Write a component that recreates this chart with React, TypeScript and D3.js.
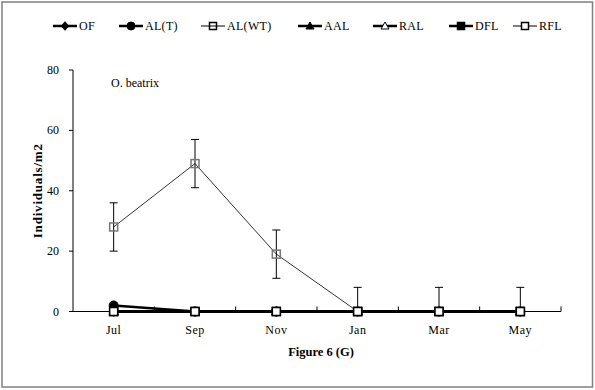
import React from "react";
import * as d3 from "d3";

const months = ["Jul", "Sep", "Nov", "Jan", "Mar", "May"];
const yTicks = [0, 20, 40, 60, 80];

const seriesNames = ["OF", "AL(T)", "AL(WT)", "AAL", "RAL", "DFL", "RFL"];
const ofValues = [0, 0, 0, 0, 0, 0];
const altValues = [2, 0, 0, 0, 0, 0];
const alwtValues = [28, 49, 19, 0, 0, 0];
const alwtErrors = [8, 8, 8, 8, 8, 8];
const aalValues = [0, 0, 0, 0, 0, 0];
const ralValues = [0, 0, 0, 0, 0, 0];
const dflValues = [0, 0, 0, 0, 0, 0];
const rflValues = [0, 0, 0, 0, 0, 0];

const FONT = "Liberation Serif, DejaVu Serif, Times New Roman, serif";

type Marker = "diamond" | "circle" | "square" | "triangle";
interface Style {
  lineWidth: number;
  lineColor: string;
  marker: Marker;
  fill: string;
  stroke: string;
  size: number;
}

const styles: Style[] = [
  { lineWidth: 2.5, lineColor: "#000", marker: "diamond", fill: "#000", stroke: "#000", size: 9 },
  { lineWidth: 2.5, lineColor: "#000", marker: "circle", fill: "#000", stroke: "#000", size: 9 },
  { lineWidth: 1, lineColor: "#333", marker: "square", fill: "none", stroke: "#777", size: 9 },
  { lineWidth: 2.5, lineColor: "#000", marker: "triangle", fill: "#000", stroke: "#000", size: 9 },
  { lineWidth: 2.5, lineColor: "#000", marker: "triangle", fill: "#fff", stroke: "#000", size: 9 },
  { lineWidth: 2.5, lineColor: "#000", marker: "square", fill: "#000", stroke: "#000", size: 9 },
  { lineWidth: 1, lineColor: "#000", marker: "square", fill: "#fff", stroke: "#000", size: 9 },
];

const seriesValues = [ofValues, altValues, alwtValues, aalValues, ralValues, dflValues, rflValues];

// legend marker centres
const legendX = [65, 131, 213, 310, 385, 461, 525];

function MarkerShape({ m, x, y }: { m: Style; x: number; y: number }) {
  const s = m.size;
  const h = s / 2;
  if (m.marker === "circle") {
    return <circle cx={x} cy={y} r={h} fill={m.fill} stroke={m.stroke} strokeWidth={1} />;
  }
  if (m.marker === "diamond") {
    return (
      <path
        d={`M${x},${y - h - 0.5}L${x + h},${y}L${x},${y + h + 0.5}L${x - h},${y}Z`}
        fill={m.fill}
        stroke={m.stroke}
        strokeWidth={0.5}
      />
    );
  }
  if (m.marker === "triangle") {
    return (
      <path
        d={`M${x},${y - h}L${x + h},${y + h - 1}L${x - h},${y + h - 1}Z`}
        fill={m.fill}
        stroke={m.stroke}
        strokeWidth={1}
      />
    );
  }
  return (
    <rect
      x={x - h + 0.5}
      y={y - h + 0.5}
      width={s - 1}
      height={s - 1}
      fill={m.fill}
      stroke={m.stroke}
      strokeWidth={1.5}
    />
  );
}

export default function App() {
  const W = 595;
  const H = 390;
  const left = 73;
  const right = 561;
  const top = 70;
  const bottom = 311.5;

  const x = d3.scaleBand<string>().domain(months).range([left, right]).padding(0);
  const y = d3.scaleLinear().domain([0, 80]).range([bottom, top]);
  const cx = (m: string) => (x(m) as number) + x.bandwidth() / 2;

  const line = d3
    .line<number>()
    .x((_, i) => cx(months[i]))
    .y((v) => y(v));

  const boundaries = months.map((m) => (x(m) as number) + x.bandwidth());

  return (
    <svg
      width={W}
      height={H}
      style={{ position: "absolute", left: 0, top: 0, background: "#fff", fontFamily: FONT }}
    >
      <rect x={0} y={0} width={W} height={H} fill="#fff" />
      <rect x={2} y={2} width={590.5} height={385} fill="none" stroke="#808080" strokeWidth={1.5} />

      {/* Legend */}
      {seriesNames.map((name, i) => {
        const st = styles[i];
        const mx = legendX[i];
        const ly = 26;
        return (
          <g key={name}>
            <line x1={mx - 12} x2={mx + 12} y1={ly} y2={ly} stroke="#000" strokeWidth={st.lineWidth} />
            <MarkerShape m={{ ...st, stroke: "#000", size: 8 }} x={mx} y={ly} />
            <text x={mx + 14} y={ly + 4} fontSize={12} fill="#000" letterSpacing={0.3} style={{ fontFamily: FONT }}>
              {name}
            </text>
          </g>
        );
      })}

      {/* Axes */}
      <line x1={left} x2={left} y1={top} y2={bottom} stroke="#000" strokeWidth={1} />
      <line x1={left} x2={right} y1={bottom} y2={bottom} stroke="#000" strokeWidth={1} />
      {yTicks.map((t) => (
        <g key={t}>
          <line x1={left - 4} x2={left} y1={y(t)} y2={y(t)} stroke="#000" strokeWidth={1} />
          <text x={59} y={y(t) + 4} fontSize={12} textAnchor="end" fill="#000" style={{ fontFamily: FONT }}>
            {t}
          </text>
        </g>
      ))}
      {boundaries.map((b, i) => (
        <line key={i} x1={b} x2={b} y1={bottom - 5} y2={bottom} stroke="#000" strokeWidth={1} />
      ))}
      {months.map((m) => (
        <text
          key={m}
          x={cx(m)}
          y={bottom + 22}
          fontSize={12}
          textAnchor="middle"
          fill="#000"
          letterSpacing={0.5}
          style={{ fontFamily: FONT }}
        >
          {m}
        </text>
      ))}

      {/* Lines */}
      {seriesValues.map((vals, i) => (
        <path
          key={"l" + i}
          d={line(vals) || ""}
          fill="none"
          stroke={styles[i].lineColor}
          strokeWidth={styles[i].lineWidth}
        />
      ))}

      {/* Error bars for AL(WT) */}
      {alwtValues.map((v, i) => {
        const e = alwtErrors[i];
        const lo = Math.max(0, v - e);
        const hi = v + e;
        const xx = cx(months[i]);
        return (
          <g key={"e" + i} stroke="#000" strokeWidth={1}>
            <line x1={xx} x2={xx} y1={y(lo)} y2={y(hi)} />
            <line x1={xx - 4} x2={xx + 4} y1={y(hi)} y2={y(hi)} />
            {v - e > 0 && <line x1={xx - 4} x2={xx + 4} y1={y(lo)} y2={y(lo)} />}
          </g>
        );
      })}

      {/* Markers */}
      {seriesValues.map((vals, i) => (
        <g key={"m" + i}>
          {vals.map((v, j) => (
            <MarkerShape key={j} m={styles[i]} x={cx(months[j])} y={y(v)} />
          ))}
        </g>
      ))}

      {/* Texts */}
      <text x={111} y={87} fontSize={12} fill="#000" style={{ fontFamily: FONT }}>
        O. beatrix
      </text>
      <text
        transform={`translate(42, ${(top + bottom) / 2}) rotate(-90)`}
        fontSize={13}
        fontWeight="bold"
        textAnchor="middle"
        fill="#000"
        letterSpacing={0.8}
        style={{ fontFamily: FONT }}
      >
        Individuals/m2
      </text>
      <text
        x={321}
        y={356}
        fontSize={12.5}
        fontWeight="bold"
        textAnchor="middle"
        fill="#000"
        style={{ fontFamily: FONT }}
      >
        Figure 6 (G)
      </text>
    </svg>
  );
}
